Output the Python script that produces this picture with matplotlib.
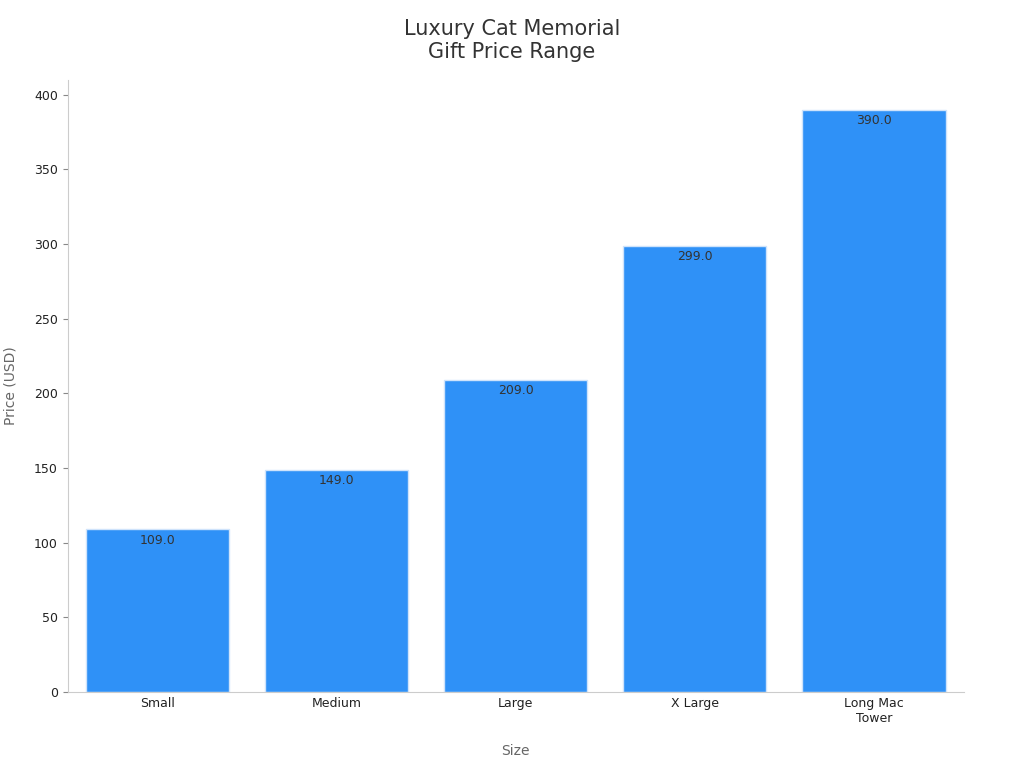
import matplotlib
matplotlib.use("Agg")
import matplotlib.pyplot as plt

categories = ["Small", "Medium", "Large", "X Large", "Long Mac\nTower"]
prices = [109.0, 149.0, 209.0, 299.0, 390.0]

plt.rcParams['font.family'] = ['DejaVu Sans']
fig = plt.figure(figsize=(10.24, 7.68), dpi=100)
ax = fig.add_axes([0.066, 0.099, 0.875, 0.797])
bars = ax.bar(categories, prices, width=0.8, color="#2f91f7", edgecolor="#cfe3fb", linewidth=1)
for b, v in zip(bars, prices):
    ax.text(b.get_x() + b.get_width()/2, v - 3, f"{v:.1f}", ha="center", va="top", fontsize=9, color="#333333")
ax.set_xlim(-0.5, 4.5)
ax.set_ylim(0, 410)
ax.set_yticks(range(0, 401, 50))
ax.spines['top'].set_visible(False)
ax.spines['right'].set_visible(False)
for s in ['left', 'bottom']:
    ax.spines[s].set_color("#cccccc")
ax.tick_params(colors="#222222", labelsize=9)
ax.tick_params(axis='x', length=0)
ax.tick_params(axis='y', color="#888888")
ax.set_xlabel("Size", fontsize=10, color="#666666", labelpad=14)
ax.set_ylabel("Price (USD)", fontsize=10, color="#666666", labelpad=12)
fig.suptitle("Luxury Cat Memorial\nGift Price Range", fontsize=15, color="#333333", y=0.975)
fig.savefig("out.png", dpi=100)
